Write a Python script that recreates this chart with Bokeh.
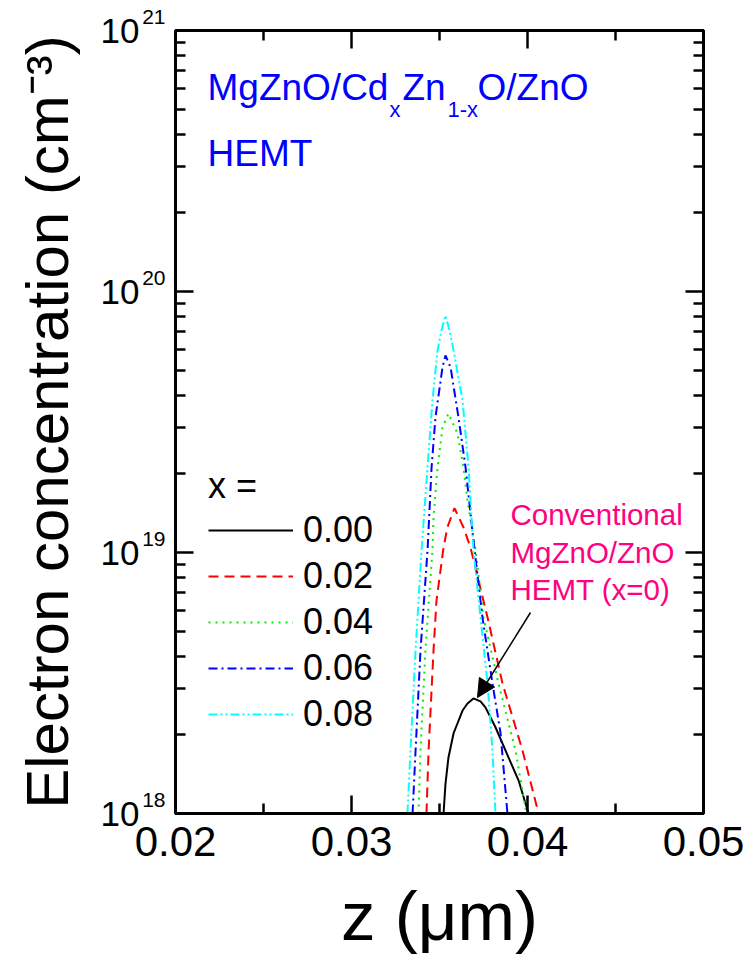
from bokeh.plotting import figure
from bokeh.models import (Range1d, FixedTicker, LinearAxis, LogAxis, Label, Legend,
                          LegendItem, Arrow, NormalHead, CustomJSTickFormatter,
                          PrintfTickFormatter)
from bokeh.embed import file_html
from bokeh.resources import INLINE

# ---------------- data ----------------
x_labels = ["0.00", "0.02", "0.04", "0.06", "0.08"]

z_000 = [0.03523, 0.03534, 0.03551, 0.03580, 0.03631, 0.03659, 0.03693, 0.03733,
         0.03761, 0.03818, 0.03892, 0.03949, 0.04006]
n_000 = [1.00e18, 1.30e18, 1.64e18, 2.03e18, 2.48e18, 2.64e18, 2.76e18, 2.69e18,
         2.55e18, 2.14e18, 1.64e18, 1.34e18, 1.00e18]

z_002 = [0.03426, 0.03438, 0.03466, 0.03483, 0.03523, 0.03545, 0.03585, 0.03636,
         0.03676, 0.03773, 0.03858, 0.03972, 0.04063]
n_002 = [1.00e18, 1.74e18, 4.21e18, 6.55e18, 1.045e19, 1.25e19, 1.48e19, 1.25e19,
         1.045e19, 5.64e18, 3.15e18, 1.74e18, 1.00e18]

z_004 = [0.03381, 0.03392, 0.03420, 0.03460, 0.03466, 0.03489, 0.03517, 0.03551,
         0.03602, 0.03636, 0.03659, 0.03705, 0.03750, 0.03835, 0.03932, 0.03994]
n_004 = [1.00e18, 1.74e18, 4.21e18, 1.02e19, 1.36e19, 2.12e19, 3.01e19, 3.41e19,
         2.86e19, 2.12e19, 1.58e19, 1.02e19, 5.64e18, 3.15e18, 1.74e18, 1.00e18]

z_006 = [0.03347, 0.03364, 0.03392, 0.03432, 0.03455, 0.03477, 0.03517, 0.03534,
         0.03563, 0.03608, 0.03648, 0.03693, 0.03744, 0.03801, 0.03847, 0.03886]
n_006 = [1.00e18, 1.74e18, 4.21e18, 1.02e19, 2.12e19, 3.29e19, 5.12e19, 5.69e19,
         5.12e19, 3.29e19, 2.12e19, 1.11e19, 5.64e18, 3.15e18, 2.03e18, 1.00e18]

z_008 = [0.03318, 0.03335, 0.03364, 0.03398, 0.03432, 0.03460, 0.03489, 0.03511,
         0.03534, 0.03557, 0.03580, 0.03631, 0.03665, 0.03693, 0.03733, 0.03773,
         0.03801, 0.03818]
n_008 = [1.00e18, 1.74e18, 4.21e18, 1.02e19, 2.12e19, 3.82e19, 5.94e19, 7.09e19,
         8.09e19, 7.09e19, 5.94e19, 3.82e19, 2.12e19, 1.02e19, 5.64e18, 3.15e18,
         1.74e18, 1.00e18]

x_ticks = [0.02, 0.03, 0.04, 0.05]
x_minor = [0.025, 0.035, 0.045]
y_ticks = [1e18, 1e19, 1e20, 1e21]
y_tick_exponents = ["18", "19", "20", "21"]

# ---------------- layout constants ----------------
FONT = "Liberation Sans"
X_MIN, X_MAX = 0.02, 0.05
E_MIN, E_MAX = 18, 21
FL, FT, FW, FH = 175, 30, 528, 783      # frame position / size in page pixels
W, H = 745, 959


def X(px):
    return X_MIN + (px - FL) / FW * (X_MAX - X_MIN)


def Y(py):
    return 10 ** (E_MAX - (py - FT) / FH * (E_MAX - E_MIN))


p = figure(width=W, height=H,
           x_range=Range1d(X_MIN, X_MAX), y_range=Range1d(10 ** E_MIN, 10 ** E_MAX),
           y_axis_type="log", output_backend="svg", toolbar_location=None,
           min_border_left=FL, min_border_top=FT,
           min_border_right=W - FL - FW, min_border_bottom=H - FT - FH)
p.xgrid.visible = False
p.ygrid.visible = False
p.outline_line_color = "black"
p.outline_line_width = 3
p.background_fill_color = "white"
p.border_fill_color = "white"

y_minor = [k * t for t in y_ticks[:-1] for k in range(2, 10)]
blank = CustomJSTickFormatter(code="return ''")


def style(ax):
    ax.axis_line_width = 3
    ax.axis_line_color = "black"
    ax.major_tick_in = 18
    ax.major_tick_out = 0
    ax.minor_tick_in = 10
    ax.minor_tick_out = 0
    ax.major_tick_line_width = 2.5
    ax.minor_tick_line_width = 2.5
    ax.major_tick_line_color = "black"
    ax.minor_tick_line_color = "black"


def bare(ax):
    ax.axis_line_color = None
    ax.major_tick_line_color = None
    ax.minor_tick_line_color = None
    ax.major_tick_in = 0
    ax.major_tick_out = 0
    ax.minor_tick_in = 0
    ax.minor_tick_out = 0


xb = p.xaxis[0]
xb.ticker = FixedTicker(ticks=x_ticks, minor_ticks=x_minor)
xb.formatter = PrintfTickFormatter(format="%.2f")
xb.major_label_text_font = FONT
xb.major_label_text_font_size = "42px"
xb.major_label_text_color = "black"
xb.major_label_text_line_height = 0.8
xb.major_label_standoff = 13
xb.axis_label = "z (\u03bcm)"
xb.axis_label_text_font = FONT
xb.axis_label_text_font_size = "69px"
xb.axis_label_text_font_style = "normal"
xb.axis_label_text_color = "black"
xb.axis_label_text_line_height = 0.8
xb.axis_label_standoff = 19
style(xb)

# left side: frame axis with ticks only, then the exponent labels, then the "10" labels
yl = p.yaxis[0]
yl.ticker = FixedTicker(ticks=y_ticks, minor_ticks=y_minor)
yl.formatter = blank
yl.major_label_text_font_size = "0px"
yl.major_label_standoff = 0
style(yl)

y_exp = LogAxis(ticker=FixedTicker(ticks=y_ticks),
                formatter=CustomJSTickFormatter(
                    args=dict(vals=y_ticks, labs=y_tick_exponents),
                    code="""
const i = vals.findIndex(v => Math.abs(Math.log10(v) - Math.log10(tick)) < 1e-6);
return i >= 0 ? labs[i] + '\\n ' : '';
"""),
                major_label_text_font=FONT, major_label_text_font_size="21px",
                major_label_text_color="black", major_label_standoff=10)
bare(y_exp)
p.add_layout(y_exp, "left")

y_ten = LogAxis(ticker=FixedTicker(ticks=y_ticks),
                formatter=CustomJSTickFormatter(code="return '10'"),
                major_label_text_font=FONT, major_label_text_font_size="35px",
                major_label_text_color="black", major_label_standoff=0,
                axis_label="Electron concentration (cm\u207b\u00b3)",
                axis_label_text_font=FONT, axis_label_text_font_size="60px",
                axis_label_text_font_style="normal", axis_label_text_color="black",
                axis_label_standoff=17)
bare(y_ten)
p.add_layout(y_ten, "left")

xt = LinearAxis(ticker=FixedTicker(ticks=x_ticks, minor_ticks=x_minor), formatter=blank,
                major_label_text_font_size="0px")
style(xt)
p.add_layout(xt, "above")
yr = LogAxis(ticker=FixedTicker(ticks=y_ticks, minor_ticks=y_minor), formatter=blank,
             major_label_text_font_size="0px")
style(yr)
p.add_layout(yr, "right")

# ---------------- curves ----------------
series = [
    (z_000, n_000, "black", "solid"),
    (z_002, n_002, "red", "10 6"),
    (z_004, n_004, "#00EE00", "2 5"),
    (z_006, n_006, "blue", "9 4 2 4"),
    (z_008, n_008, "cyan", "9 3 2 3 2 3"),
]
items = []
for lab_txt, (zz, nn, col, dash) in zip(x_labels, series):
    r = p.line(zz, nn, line_color=col, line_width=2, line_dash=dash)
    items.append(LegendItem(label=lab_txt, renderers=[r]))

legend = Legend(items=items, location=(33, 78), title="x =",
                title_text_font=FONT, title_text_font_size="36px",
                title_text_font_style="normal", title_text_color="black", title_standoff=2,
                label_text_font=FONT, label_text_font_size="36px", label_text_color="black",
                glyph_width=85, glyph_height=42, label_height=42, spacing=4,
                label_standoff=10, padding=0, margin=0,
                border_line_color=None, background_fill_alpha=0)
p.add_layout(legend)


# ---------------- texts inside the frame ----------------
BASE_FIX = 0.38   # measured offset of the rendered baseline, in em


def lab(text, px, py, size, color="black", align="left"):
    p.add_layout(Label(x=X(px), y=Y(py - BASE_FIX * size), text=text, text_font=FONT,
                       text_font_size=f"{size}px", text_color=color, text_align=align,
                       text_baseline="alphabetic"))


BLUE = "#0000FF"
lab("MgZnO/Cd", 207, 101.5, 37, BLUE)
lab("x", 389, 117, 22, BLUE)
lab("Zn", 402, 101.5, 37, BLUE)
lab("1-x", 447, 117, 22, BLUE)
lab("O/ZnO", 477, 101.5, 37, BLUE)
lab("HEMT", 207, 167, 37, BLUE)

PINK = "#FF0080"
lab("Conventional", 510, 525, 29.5, PINK)
lab("MgZnO/ZnO", 510, 563, 29.5, PINK)
lab("HEMT (x=0)", 510, 600, 29.5, PINK)
p.add_layout(Arrow(x_start=X(530), y_start=Y(612), x_end=X(477), y_end=Y(697),
                   line_width=1.5, line_color="black",
                   end=NormalHead(size=18, fill_color="black", line_color="black")))

open("out.html", "w").write(file_html(p, INLINE))
